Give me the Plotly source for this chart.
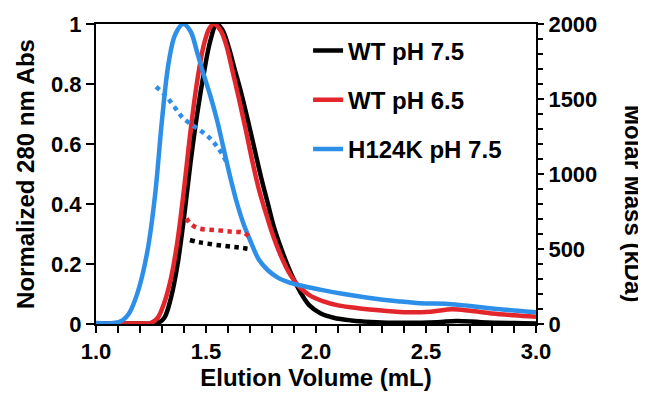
import plotly.graph_objects as go

# ---- Absorbance traces (normalized 280 nm Abs) ----
wt75_x = [1.0, 1.2, 1.28, 1.31, 1.34, 1.37, 1.40, 1.43, 1.46, 1.49, 1.52, 1.548, 1.575, 1.60, 1.63, 1.66, 1.69,
          1.72, 1.75, 1.78, 1.81, 1.85, 1.89, 1.93, 1.97, 2.02, 2.08, 2.16, 2.25, 2.4, 2.55, 2.64, 2.75, 2.9, 3.0]
wt75_y = [0.002, 0.002, 0.003, 0.02, 0.085, 0.195, 0.355, 0.54, 0.70, 0.835, 0.945, 1.0, 0.98, 0.93, 0.85, 0.77,
          0.68, 0.585, 0.49, 0.405, 0.32, 0.235, 0.163, 0.105, 0.062, 0.036, 0.021, 0.012, 0.007, 0.004, 0.006,
          0.010, 0.006, 0.003, 0.002]

wt65_x = [1.0, 1.2, 1.25, 1.28, 1.31, 1.34, 1.37, 1.40, 1.43, 1.46, 1.49, 1.515, 1.536, 1.565, 1.59, 1.62, 1.65,
          1.68, 1.71, 1.74, 1.77, 1.80, 1.84, 1.88, 1.92, 1.97, 2.03, 2.1, 2.2, 2.3, 2.42, 2.52, 2.62, 2.7, 2.8,
          2.9, 3.0]
wt65_y = [0.002, 0.002, 0.004, 0.02, 0.07, 0.15, 0.275, 0.45, 0.645, 0.81, 0.93, 0.985, 1.0, 0.98, 0.935, 0.845,
          0.75, 0.65, 0.545, 0.45, 0.375, 0.305, 0.228, 0.168, 0.127, 0.096, 0.076, 0.062, 0.052, 0.045, 0.039,
          0.041, 0.049, 0.044, 0.035, 0.029, 0.024]

h124k_x = [1.0, 1.08, 1.12, 1.15, 1.18, 1.21, 1.24, 1.27, 1.30, 1.33, 1.36, 1.397, 1.43, 1.46, 1.49, 1.52, 1.55,
           1.58, 1.61, 1.64, 1.67, 1.70, 1.74, 1.78, 1.83, 1.88, 1.95, 2.03, 2.12, 2.245, 2.37, 2.473, 2.6, 2.7,
           2.8, 2.9, 3.0]
h124k_y = [0.003, 0.003, 0.012, 0.035, 0.085, 0.16, 0.27, 0.44, 0.68, 0.87, 0.965, 1.0, 0.975, 0.905, 0.83,
           0.76, 0.68, 0.585, 0.49, 0.405, 0.335, 0.28, 0.215, 0.18, 0.153, 0.138, 0.125, 0.113, 0.101, 0.087,
           0.076, 0.069, 0.067, 0.060, 0.052, 0.045, 0.039]

# ---- Molar mass (kDa) ----
wt75_mass_x = [1.427, 1.473, 1.586, 1.65, 1.707]
wt75_mass_y = [560, 544, 520, 510, 498]
wt65_mass_x = [1.412, 1.427, 1.465, 1.55, 1.62, 1.67, 1.697]
wt65_mass_y = [705, 671, 638, 625, 615, 609, 582]
h124k_mass_x = [1.273, 1.306, 1.329, 1.36, 1.397, 1.453, 1.51, 1.556, 1.597]
h124k_mass_y = [1582, 1538, 1500, 1440, 1371, 1311, 1249, 1171, 1071]

names = ["WT pH 7.5", "WT pH 6.5", "H124K pH 7.5"]
colors = ["#000000", "#e2262c", "#2e8fe8"]

x_ticks = [1.0, 1.5, 2.0, 2.5, 3.0]
x_ticktext = ["1.0", "1.5", "2.0", "2.5", "3.0"]
y_ticks = [0, 0.2, 0.4, 0.6, 0.8, 1]
y_ticktext = ["0", "0.2", "0.4", "0.6", "0.8", "1"]
y2_ticks = [0, 500, 1000, 1500, 2000]

FONT = "Arial, 'Liberation Sans', sans-serif"

fig = go.Figure()
abs_data = [(wt75_x, wt75_y), (wt65_x, wt65_y), (h124k_x, h124k_y)]
for (xs, ys), n, c in zip(abs_data, names, colors):
    fig.add_trace(go.Scatter(x=xs, y=ys, name=n, mode="lines", legendgroup=n,
                             line=dict(color=c, width=4.5, shape="spline", smoothing=1.0)))

mass_data = [(wt75_mass_x, wt75_mass_y), (wt65_mass_x, wt65_mass_y), (h124k_mass_x, h124k_mass_y)]
for (xs, ys), n, c in zip(mass_data, names, colors):
    fig.add_trace(go.Scatter(x=xs, y=ys, yaxis="y2", mode="lines", showlegend=False,
                             line=dict(color=c, width=4.5, dash="4.5px,4.5px", shape="spline")))

axis_font = dict(family=FONT, size=22, color="black", weight="bold")
title_font = dict(family=FONT, size=24, color="black", weight="bold")

# page body has an 8px default margin, so the figure is 8px smaller and margins shifted
fig.update_layout(
    width=638, height=390,
    margin=dict(l=88, r=110, t=16, b=74, autoexpand=False),
    paper_bgcolor="white", plot_bgcolor="white",
    showlegend=True,
    legend=dict(x=0.482, y=0.985, xanchor="left", yanchor="top",
                font=dict(family=FONT, size=24, color="black", weight="bold"),
                traceorder="grouped", tracegroupgap=15, bgcolor="rgba(0,0,0,0)",
                itemwidth=30),
    xaxis=dict(range=[1.0, 3.0], tickvals=x_ticks, ticktext=x_ticktext, automargin=False,
               showline=True, linecolor="black", linewidth=2, mirror=True,
               ticks="outside", ticklen=7, tickwidth=2, tickcolor="black",
               minor=dict(dtick=0.1, ticks="outside", ticklen=7, tickwidth=2, tickcolor="black"),
               showgrid=False, zeroline=False, tickfont=axis_font,
               title=dict(text="Elution Volume (mL)", font=title_font, standoff=6)),
    yaxis=dict(range=[0, 1.0], tickvals=y_ticks, ticktext=y_ticktext, automargin=False,
               showline=True, linecolor="black", linewidth=2,
               ticks="outside", ticklen=8, tickwidth=2, tickcolor="black",
               showgrid=False, zeroline=False, tickfont=axis_font,
               title=dict(text="Normalized 280 nm Abs", font=title_font, standoff=10)),
    yaxis2=dict(range=[0, 2000], tickvals=y2_ticks, overlaying="y", side="right", automargin=False,
                showline=True, linecolor="black", linewidth=2,
                ticks="outside", ticklen=6, tickwidth=2, tickcolor="black",
                minor=dict(dtick=100, ticks="outside", ticklen=5, tickwidth=2, tickcolor="black"),
                showgrid=False, zeroline=False, tickfont=axis_font),
    annotations=[dict(text="Molar Mass (kDa)", xref="paper", yref="paper", x=1.2227, y=0.40,
                      textangle=90, showarrow=False, font=title_font,
                      xanchor="center", yanchor="middle")],
)

fig.write_html("out.html")
